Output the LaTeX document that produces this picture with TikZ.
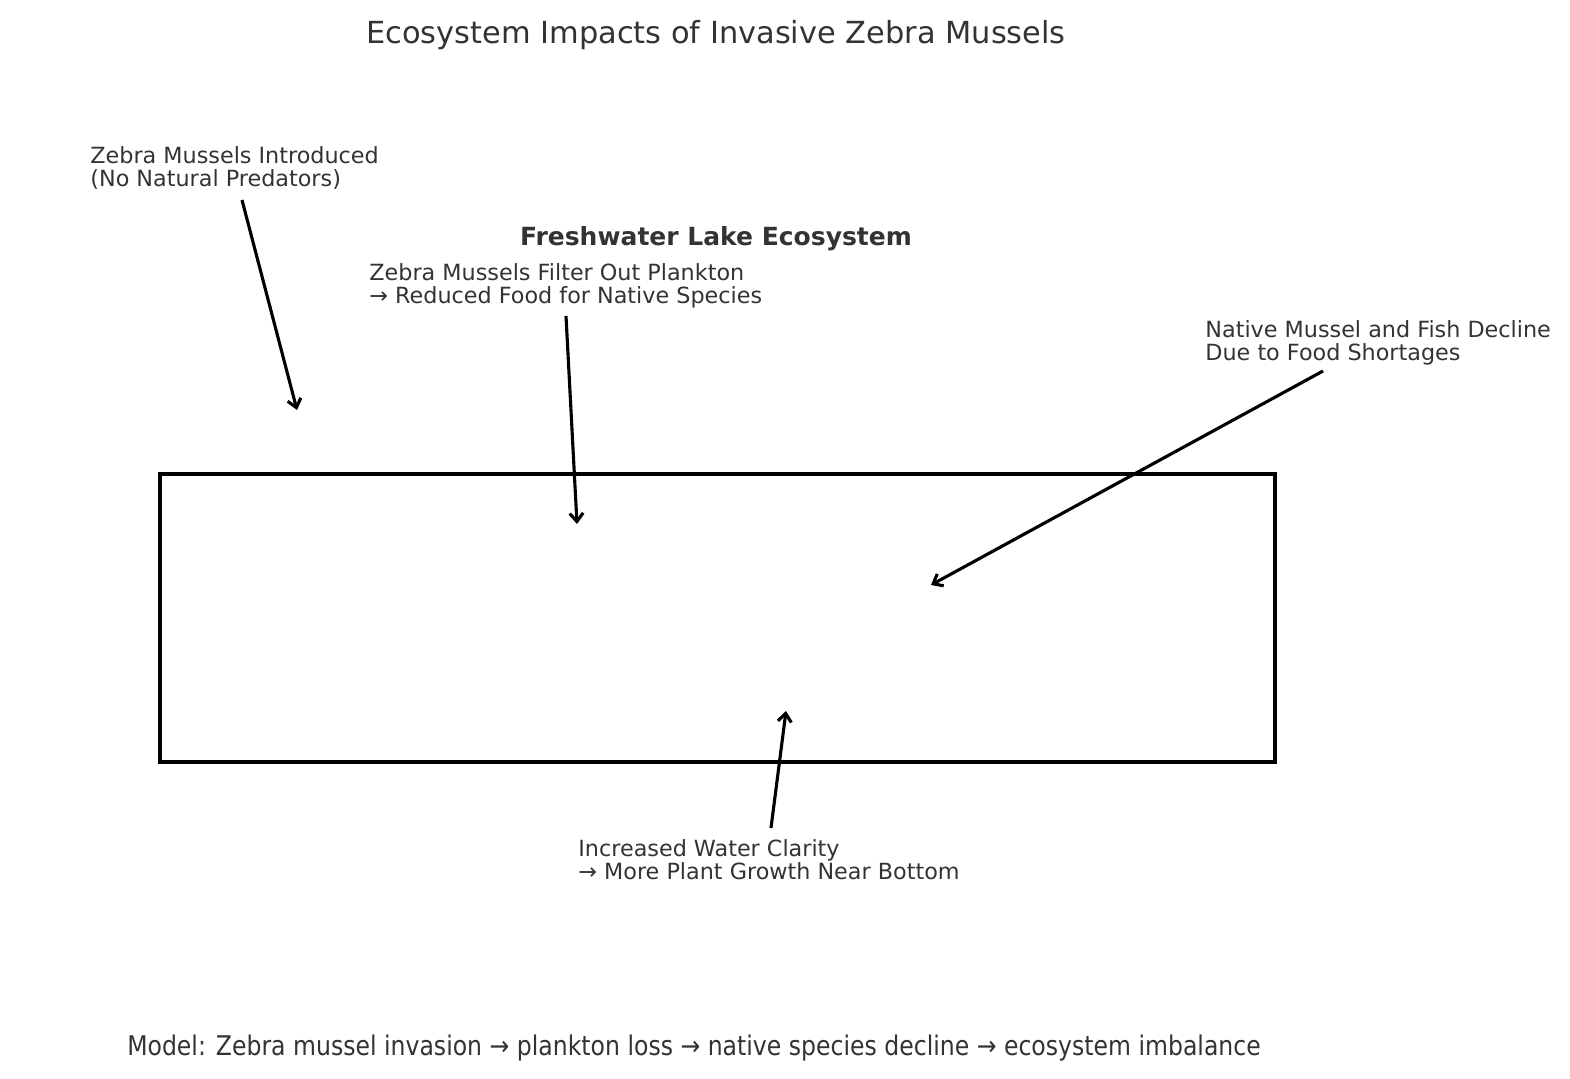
\documentclass[tikz,border=0pt]{standalone}
\usepackage{fontspec}
\setmainfont{DejaVu Sans}
\newfontfamily\condfont[FakeStretch=0.87]{DejaVu Sans}
\usetikzlibrary{arrows.meta}
\definecolor{Ink}{HTML}{333333}
\tikzset{
  note/.style={anchor=north west,align=left,inner sep=0pt,font=\fontsize{10.7}{11.2}\selectfont,text=Ink},
  arr/.style={-{Straight Barb[length=4pt,width=6.5pt]},line width=1.5pt,draw=black},
  lake/.style={draw=black,line width=1.6pt}
}
\begin{document}
\begin{tikzpicture}[x=0.48pt,y=-0.48pt]
  \useasboundingbox (0,0) rectangle (1570,1079);
  \node[font=\fontsize{14.6}{16}\selectfont,text=Ink] (title) at (716,35) {Ecosystem Impacts of Invasive Zebra Mussels};
  % lake box
  \draw[lake] (160,474) rectangle (1275,762);
  \node[font=\bfseries\fontsize{12}{14}\selectfont,text=Ink] (lakename) at (716,239) {Freshwater Lake Ecosystem};
  % annotations
  \node[note] (intro) at (90,146) {Zebra Mussels Introduced\\(No Natural Predators)};
  \node[note] (filter) at (369,263) {Zebra Mussels Filter Out Plankton\\→ Reduced Food for Native Species};
  \node[note] (decline) at (1205,320) {Native Mussel and Fish Decline\\Due to Food Shortages};
  \node[note] (clarity) at (578,839) {Increased Water Clarity\\→ More Plant Growth Near Bottom};
  \coordinate (introTail) at (242,200);
  \coordinate (introHead) at (297,410);
  \coordinate (filterTail) at (566,316);
  \coordinate (filterHead) at (577,524);
  \coordinate (declineTail) at (1323,371);
  \coordinate (declineHead) at (931,585);
  \coordinate (clarityTail) at (771,828);
  \coordinate (clarityHead) at (786,711);
  \draw[arr] (introTail) -- (introHead);
  \draw[arr] (filterTail) -- (filterHead);
  \draw[arr] (declineTail) -- (declineHead);
  \draw[arr] (clarityTail) -- (clarityHead);
  % model line
  \node[font=\condfont\fontsize{13}{15}\selectfont,text=Ink] (model) at (694,1048) {Model: Zebra mussel invasion → plankton loss → native species decline → ecosystem imbalance};
\end{tikzpicture}
\end{document}
